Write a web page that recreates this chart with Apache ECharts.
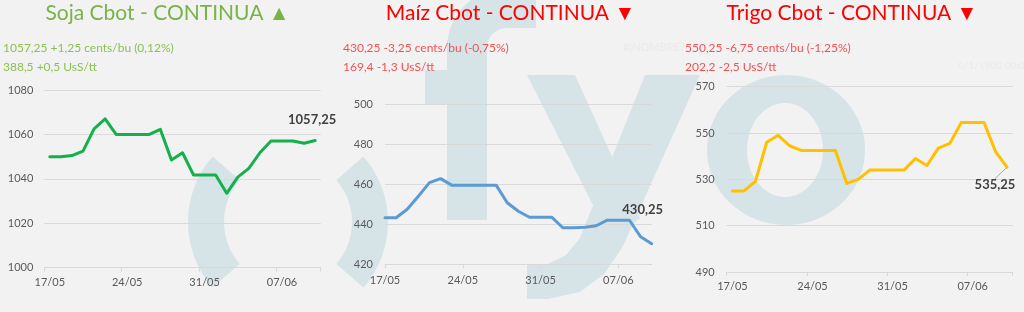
<!DOCTYPE html>
<html>
<head>
<meta charset="utf-8">
<script src="https://cdn.jsdelivr.net/npm/echarts@6/dist/echarts.min.js"></script>
<style>
html,body{margin:0;padding:0;background:#f2f2f2;}
#chart{width:1024px;height:312px;}
</style>
</head>
<body>
<div id="chart"></div>
<script>
// ---- data ----
const categories = ['17/05','18/05','19/05','20/05','21/05','22/05','23/05','24/05','25/05','26/05','27/05','28/05','29/05','30/05','31/05','01/06','02/06','03/06','04/06','05/06','06/06','07/06','08/06','09/06','10/06'];
const sojaValues  = [1050, 1050, 1050.5, 1052.5, 1062.5, 1067, 1060, 1060, 1060, 1060, 1062.25, 1048.5, 1051.75, 1041.75, 1041.75, 1041.75, 1033.5, 1040.75, 1044.75, 1051.75, 1057, 1057, 1057, 1056, 1057.25];
const maizValues  = [443.25, 443.25, 447.5, 454, 460.75, 462.75, 459.5, 459.5, 459.5, 459.5, 459.5, 450.75, 446.5, 443.5, 443.5, 443.5, 438.25, 438.25, 438.5, 439.25, 442, 442, 442, 433.75, 430.25];
const trigoValues = [525, 525, 529, 546, 549, 544.5, 542.5, 542.5, 542.5, 542.5, 528.25, 530, 534, 534, 534, 534, 539, 536, 543.5, 545.5, 554.5, 554.5, 554.5, 542, 535.25];
const sojaAxis  = [1000, 1080, 20];
const maizAxis  = [420, 500, 20];
const trigoAxis = [490, 570, 20];
const titles = ['Soja Cbot - CONTINUA ▲', 'Maíz Cbot - CONTINUA ▼', 'Trigo Cbot - CONTINUA ▼'];
const subLine1 = ['1057,25 +1,25 cents/bu (0,12%)', '430,25 -3,25 cents/bu (-0,75%)', '550,25 -6,75 cents/bu (-1,25%)'];
const subLine2 = ['388,5 +0,5 UsS/tt', '169,4 -1,3 UsS/tt', '202,2 -2,5 UsS/tt'];

const FONT = 'Lato, "Open Sans", sans-serif';
const AXIS_COLOR = '#595959';
const WM = '#d6e4e8';
const BG = '#f2f2f2';

function fmt(v){ return String(v).replace('.', ','); }
function withLastLabel(values, label){
  return values.map((v,i)=> i === values.length-1 ? {value:v, label:Object.assign({show:true, formatter:p=>fmt(p.value), color:'#404040', fontFamily:FONT, fontWeight:'bold', fontSize:13}, label)} : v);
}

const grids = [
  {left:44.3, top:90, width:276.4, height:177.7},
  {left:385, top:104, width:266.7, height:160.3},
  {left:726.7, top:86.7, width:286, height:185.3}
];
const boundary = [true, false, true];
const xMargins = [9, 11, 9];
const yMargins = [11, 12, 12];
const yDefs = [sojaAxis, maizAxis, trigoAxis];

const xAxis = grids.map((g,i)=>({
  type:'category', gridIndex:i, data:categories, boundaryGap:boundary[i],
  axisLine:{show:true, lineStyle:{color:'#d9d9d9', width:1}},
  axisTick:{show:true, interval:6, length:4, lineStyle:{color:'#d9d9d9'}},
  axisLabel:{interval:6, color:AXIS_COLOR, fontFamily:FONT, fontSize:11, margin:xMargins[i]},
  splitLine:{show:false}
}));
const yAxis = yDefs.map((d,i)=>({
  type:'value', gridIndex:i, min:d[0], max:d[1], interval:d[2],
  axisLine:{show:false}, axisTick:{show:false},
  axisLabel:{color:AXIS_COLOR, fontFamily:FONT, fontSize:11, margin:yMargins[i], formatter:v=>String(v)},
  splitLine:{show:true, lineStyle:{color:'#d9d9d9', width:1}}
}));

function lineSeries(i, values, color, label, extra){
  return Object.assign({
    type:'line', xAxisIndex:i, yAxisIndex:i,
    data:withLastLabel(values, label),
    symbol:'circle', symbolSize:1, showSymbol:true, showAllSymbol:true,
    itemStyle:{color:color},
    lineStyle:{color:color, width:3, cap:'round', join:'round'},
    animation:false, z:5
  }, extra||{});
}

const series = [
  lineSeries(0, sojaValues, '#13b04c', {position:'top', distance:14, offset:[-3,0]}),
  lineSeries(1, maizValues, '#5b9bd5', {position:'top', distance:27, offset:[-9,0]}),
  lineSeries(2, trigoValues, '#ffc000', {position:'bottom', distance:5},
    {labelLine:{show:true, lineStyle:{color:'#a6a6a6', width:1}},
     labelLayout:function(){ return {dx:-12, dy:6}; }})
];

const titleX = [167.5, 510.5, 852];
const subX = [3, 343, 685];
const titleColors = ['#77b347', '#ff0000', '#ff0000'];
const subColors = ['#8cc152', '#f25252', '#f25252'];

const graphics = [];
// watermark
graphics.push({type:'sector', z:-1, shape:{cx:288, cy:222, r:100, r0:64, startAngle:Math.PI*(180-41)/180, endAngle:Math.PI*(180+41)/180}, style:{fill:WM}});
graphics.push({type:'sector', z:-1, shape:{cx:288, cy:222, r:100, r0:64, startAngle:-Math.PI*41/180, endAngle:Math.PI*41/180}, style:{fill:WM}});
// f
graphics.push({type:'rect', z:-1, shape:{x:447, y:40, width:40, height:180}, style:{fill:WM}});
graphics.push({type:'rect', z:-1, shape:{x:425, y:70, width:62, height:35}, style:{fill:WM}});
graphics.push({type:'sector', z:-1, shape:{cx:507, cy:48, r:60, r0:20, startAngle:Math.PI, endAngle:Math.PI*1.5}, style:{fill:WM}});
graphics.push({type:'rect', z:-1, shape:{x:506, y:-12, width:30, height:40}, style:{fill:WM}});
// y
graphics.push({type:'polygon', z:-1, shape:{points:[[527,75],[575,75],[640,218],[612,242],[598,215]]}, style:{fill:WM}});
graphics.push({type:'polygon', z:-1, shape:{points:[[645,75],[700,75],[622,248],[604,274],[580,292],[548,299],[527,299],[527,264],[548,264],[566,255],[580,238]]}, style:{fill:WM}});
// o
graphics.push({type:'ellipse', z:-2, shape:{cx:786, cy:150, rx:79, ry:75}, style:{fill:WM}});
graphics.push({type:'ellipse', z:-1, shape:{cx:785, cy:150, rx:38, ry:47}, style:{fill:BG}});

// titles & subtitles
for (let i=0;i<3;i++){
  graphics.push({type:'text', x:titleX[i], y:13, style:{text:titles[i], fill:titleColors[i], font:'21px '+FONT, align:'center', verticalAlign:'middle'}});
  graphics.push({type:'text', x:subX[i], y:48, style:{text:subLine1[i], fill:subColors[i], font:'12px '+FONT, align:'left', verticalAlign:'middle'}});
  graphics.push({type:'text', x:subX[i], y:67, style:{text:subLine2[i], fill:subColors[i], font:'12px '+FONT, align:'left', verticalAlign:'middle'}});
}
graphics.push({type:'text', x:623, y:47, style:{text:'#¡NOMBRE?', fill:'#eaeaea', font:'11px '+FONT, align:'left', verticalAlign:'middle'}});
graphics.push({type:'text', x:958, y:66, style:{text:'0/1/1900 00:00', fill:'#eaeaea', font:'10px '+FONT, align:'left', verticalAlign:'middle'}});

const chart = echarts.init(document.getElementById('chart'), null, {renderer:'canvas'});
chart.setOption({
  backgroundColor:BG,
  animation:false,
  grid:grids,
  xAxis:xAxis,
  yAxis:yAxis,
  series:series,
  graphic:{elements:graphics}
});
</script>
</body>
</html>
